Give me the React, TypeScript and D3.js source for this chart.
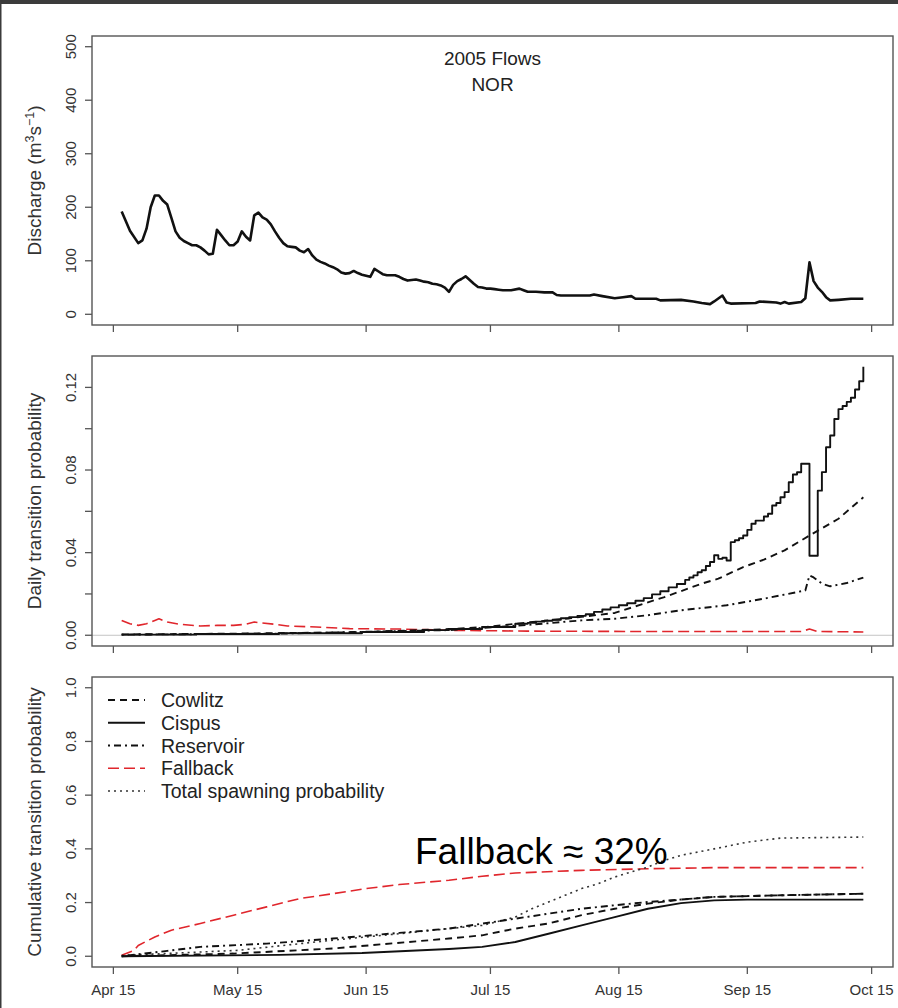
import React from "react";
import * as d3 from "d3";

// Season runs from 15 April 2005; all series are keyed by days after that date.
const SEASON_START = Date.UTC(2005, 3, 15);
const dayToDate = (d: number) => new Date(SEASON_START + d * 86400000);

// ---- Panel 1: discharge (m3/s) ----
const flowDays = [2, 4, 6, 7, 8, 9, 10, 11, 12, 13, 14, 15, 16, 17, 18, 19, 20, 21, 22, 23, 24, 25, 26, 27, 28, 29, 30, 31, 32, 33, 34, 35, 36, 37, 38, 39, 40, 41, 42, 43, 44, 45, 46, 47, 48, 49, 50, 51, 52, 53, 54, 55, 56, 57, 58, 59, 60, 61, 62, 63, 64, 65, 66, 67, 68, 69, 70, 71, 72, 73, 74, 75, 76, 77, 78, 79, 80, 81, 82, 83, 84, 85, 86, 87, 88, 89, 90, 91, 92, 93, 94, 96, 98, 99, 100, 102, 104, 106, 107, 108, 112, 115, 116, 118, 121, 123, 125, 126, 131, 132, 137, 140, 142, 144, 145, 147, 148, 149, 155, 156, 160, 161, 162, 163, 166, 167, 168, 169, 170, 171, 172, 173, 175, 178, 181];
const flowValues = [192, 156, 133, 138, 160, 200, 222, 222, 212, 205, 180, 155, 143, 137, 133, 129, 129, 125, 119, 112, 113, 158, 148, 138, 129, 129, 136, 155, 145, 138, 185, 190, 181, 177, 168, 155, 143, 133, 127, 126, 125, 119, 116, 122, 110, 102, 98, 95, 91, 88, 84, 78, 76, 77, 81, 77, 74, 72, 70, 85, 80, 75, 73, 73, 73, 70, 66, 63, 64, 65, 63, 61, 60, 57, 56, 54, 50, 42, 55, 62, 66, 71, 64, 57, 51, 50, 48, 48, 47, 46, 45, 45, 48, 45, 42, 42, 41, 41, 36, 35, 35, 35, 37, 34, 30, 32, 34, 29, 29, 26, 27, 24, 21, 19, 24, 35, 22, 20, 21, 24, 22, 20, 23, 20, 23, 30, 97, 62, 50, 42, 32, 26, 27, 29, 29];

// ---- Panel 2: daily transition probability ----
const cispusDays = [2, 20, 40, 60, 75, 81, 89, 97, 100, 102, 104, 106, 108, 110, 112, 114, 116, 118, 120, 122, 124, 126, 128, 130, 132, 134, 136, 138, 139, 140, 141, 142, 143, 144, 145, 146, 147, 148, 149, 150, 151, 152, 153, 154, 155, 156, 157, 158, 159, 160, 161, 162, 163, 164, 165, 166, 167, 168, 169, 170, 171, 172, 173, 174, 175, 176, 177, 178, 179, 180, 181];
const cispusDaily = [0.0003, 0.0006, 0.001, 0.0016, 0.0025, 0.003, 0.004, 0.0056, 0.006, 0.0066, 0.007, 0.0075, 0.0082, 0.0088, 0.0094, 0.0102, 0.0113, 0.0125, 0.0135, 0.0145, 0.0155, 0.0167, 0.018, 0.0198, 0.0213, 0.0232, 0.0248, 0.0268, 0.028, 0.029, 0.0305, 0.0315, 0.0335, 0.0355, 0.0387, 0.037, 0.0375, 0.0362, 0.0451, 0.046, 0.047, 0.0483, 0.051, 0.054, 0.0555, 0.0555, 0.0575, 0.0588, 0.0628, 0.064, 0.0668, 0.0693, 0.0741, 0.0778, 0.0789, 0.083, 0.083, 0.0385, 0.0385, 0.07, 0.079, 0.091, 0.0967, 0.1047, 0.1095, 0.111, 0.113, 0.115, 0.119, 0.123, 0.13];

const cowlitzDays = [2, 30, 60, 81, 90, 100, 110, 121, 126, 133, 138, 142, 146, 152, 157, 162, 168, 175, 181];
const cowlitzDaily = [0.0004, 0.0008, 0.0015, 0.003, 0.004, 0.0062, 0.0082, 0.0108, 0.014, 0.0185, 0.0221, 0.025, 0.0274, 0.033, 0.0366, 0.0411, 0.0483, 0.0564, 0.0668];

const reservoirDays = [2, 40, 81, 100, 113, 121, 129, 137, 148, 157, 167, 168, 169, 171, 173, 177, 181];
const reservoirDaily = [0.0003, 0.0008, 0.0025, 0.005, 0.0072, 0.008, 0.0097, 0.0121, 0.0145, 0.0177, 0.0217, 0.029, 0.028, 0.025, 0.0237, 0.0253, 0.0279];

const fallbackDays = [2, 4, 6, 8, 10, 11, 13, 16, 21, 25, 29, 32, 34, 35, 39, 42, 49, 57, 69, 81, 100, 130, 166, 168, 170, 181];
const fallbackDaily = [0.0072, 0.0056, 0.0048, 0.0056, 0.0072, 0.008, 0.0064, 0.0053, 0.0045, 0.0048, 0.0048, 0.0053, 0.0064, 0.0061, 0.0053, 0.0045, 0.004, 0.0032, 0.003, 0.0024, 0.002, 0.0018, 0.0018, 0.003, 0.0018, 0.0016];

// ---- Panel 3: cumulative transition probability ----
const cowlitzCumDays = [2, 29, 53, 81, 89, 97, 105, 113, 121, 129, 137, 145, 161, 181];
const cowlitzCum = [0, 0.01, 0.029, 0.066, 0.078, 0.103, 0.122, 0.153, 0.177, 0.196, 0.211, 0.221, 0.227, 0.233];

const cispusCumDays = [2, 40, 60, 81, 89, 97, 105, 113, 121, 129, 137, 145, 153, 181];
const cispusCum = [0, 0.005, 0.012, 0.027, 0.035, 0.053, 0.084, 0.115, 0.146, 0.177, 0.198, 0.208, 0.211, 0.211];

const reservoirCumDays = [2, 13, 21, 37, 53, 69, 81, 97, 113, 121, 129, 145, 161, 181];
const reservoirCum = [0, 0.02, 0.035, 0.047, 0.066, 0.087, 0.103, 0.14, 0.177, 0.19, 0.202, 0.221, 0.227, 0.233];

const fallbackCumDays = [2, 5, 6, 10, 14, 21, 29, 37, 45, 53, 61, 69, 81, 89, 97, 113, 129, 145, 181];
const fallbackCum = [0.004, 0.022, 0.04, 0.072, 0.097, 0.122, 0.153, 0.184, 0.215, 0.233, 0.252, 0.267, 0.283, 0.298, 0.31, 0.32, 0.326, 0.33, 0.33];

const totalCumDays = [2, 30, 53, 69, 81, 89, 97, 101, 105, 109, 113, 117, 121, 125, 129, 133, 137, 145, 153, 161, 181];
const totalCum = [0.003, 0.022, 0.06, 0.084, 0.103, 0.115, 0.146, 0.177, 0.202, 0.227, 0.252, 0.27, 0.295, 0.314, 0.332, 0.357, 0.376, 0.4, 0.425, 0.44, 0.444];

// ---- Axis ticks ----
const xTickLabels = ["Apr 15", "May 15", "Jun 15", "Jul 15", "Aug 15", "Sep 15", "Oct 15"];
const flowTicks = [0, 100, 200, 300, 400, 500];
const dailyTicks = [0, 0.02, 0.04, 0.06, 0.08, 0.1, 0.12];
const dailyTickLabels = [0, 0.04, 0.08, 0.12];
const cumTicks = [0, 0.2, 0.4, 0.6, 0.8, 1.0];

const FONT = "'Liberation Sans', Arial, Helvetica, sans-serif";
const AXIS_COL = "#555";

const LEFT = 92;
const RIGHT = 893;
const panels = [
  { top: 36, bottom: 325 },
  { top: 356, bottom: 646 },
  { top: 677, bottom: 967 },
];

type Pt = [number, number];
const zip = (days: number[], vals: number[]): Pt[] => days.map((d, i) => [d, vals[i]]);

// R-style axis range: data range padded by 4% on each side
const pad = (lo: number, hi: number): [number, number] => {
  const r = hi - lo;
  return [lo - 0.04 * r, hi + 0.04 * r];
};

const allDays = [...flowDays, ...cispusDays, ...totalCumDays];
const [dLo, dHi] = pad(d3.min(allDays)!, d3.max(allDays)!);
const x = d3.scaleUtc().domain([dayToDate(dLo), dayToDate(dHi)]).range([LEFT, RIGHT]);

const yFlow = d3.scaleLinear().domain(pad(0, 500)).range([panels[0].bottom, panels[0].top]);
const dailyMax = d3.max([...cispusDaily, ...cowlitzDaily, ...reservoirDaily, ...fallbackDaily])!;
const yDaily = d3.scaleLinear().domain(pad(0, dailyMax)).range([panels[1].bottom, panels[1].top]);
const yCum = d3.scaleLinear().domain(pad(0, 1)).range([panels[2].bottom, panels[2].top]);

const parseTick = d3.utcParse("%b %d %Y");
const xTickDates = xTickLabels.map((l) => parseTick(l + " 2005")!);

function pathFor(pts: Pt[], y: d3.ScaleLinear<number, number>, curve: d3.CurveFactory = d3.curveLinear) {
  return (
    d3
      .line<Pt>()
      .x((p) => x(dayToDate(p[0])))
      .y((p) => y(p[1]))
      .curve(curve)(pts) || ""
  );
}

const series = {
  cowlitz: { stroke: "#111", dash: "7,5", width: 1.9 },
  cispus: { stroke: "#111", dash: "", width: 1.9 },
  reservoir: { stroke: "#111", dash: "2,4,7,4", width: 1.9 },
  fallback: { stroke: "#e0262c", dash: "11,5", width: 1.6 },
  total: { stroke: "#333", dash: "2,4", width: 1.6 },
};

const legendItems: { label: string; key: keyof typeof series }[] = [
  { label: "Cowlitz", key: "cowlitz" },
  { label: "Cispus", key: "cispus" },
  { label: "Reservoir", key: "reservoir" },
  { label: "Fallback", key: "fallback" },
  { label: "Total spawning probability", key: "total" },
];

function Frame({ top, bottom }: { top: number; bottom: number }) {
  return (
    <g>
      <rect x={LEFT} y={top} width={RIGHT - LEFT} height={bottom - top} fill="none" stroke={AXIS_COL} strokeWidth={1.4} />
      {xTickDates.map((d, i) => (
        <line key={i} x1={x(d)} x2={x(d)} y1={bottom} y2={bottom + 7} stroke={AXIS_COL} strokeWidth={1.3} />
      ))}
    </g>
  );
}

function YAxis({
  y,
  ticks,
  labels,
  fmt,
  title,
}: {
  y: d3.ScaleLinear<number, number>;
  ticks: number[];
  labels: number[];
  fmt: (v: number) => string;
  title: React.ReactNode;
}) {
  const [r0, r1] = y.range();
  const mid = (r0 + r1) / 2;
  return (
    <g fontFamily={FONT}>
      {ticks.map((t, i) => (
        <line key={i} x1={LEFT - 7} x2={LEFT} y1={y(t)} y2={y(t)} stroke={AXIS_COL} strokeWidth={1.3} />
      ))}
      {labels.map((t, i) => (
        <text key={i} transform={`translate(75.5,${y(t)}) rotate(-90)`} textAnchor="middle" fontSize={15} fill="#333">
          {fmt(t)}
        </text>
      ))}
      <text transform={`translate(41,${mid}) rotate(-90)`} textAnchor="middle" fontSize={19} fill="#333">
        {title}
      </text>
    </g>
  );
}

function SeriesPath({ pts, y, k, curve }: { pts: Pt[]; y: d3.ScaleLinear<number, number>; k: keyof typeof series; curve?: d3.CurveFactory }) {
  const s = series[k];
  return (
    <path
      d={pathFor(pts, y, curve)}
      fill="none"
      stroke={s.stroke}
      strokeWidth={s.width}
      strokeDasharray={s.dash || undefined}
      strokeLinejoin="round"
    />
  );
}

export default function App() {
  const f2 = d3.format(".2f");
  const f1 = d3.format(".1f");
  return (
    <svg
      width={898}
      height={1008}
      viewBox="0 0 898 1008"
      style={{ position: "absolute", left: 0, top: 0, background: "#fff" }}
    >
      <rect x={0} y={0} width={898} height={1008} fill="#fff" />

      {/* Panel 1: discharge */}
      <Frame {...panels[0]} />
      <YAxis
        y={yFlow}
        ticks={flowTicks}
        labels={flowTicks}
        fmt={(v) => String(v)}
        title={
          <>
            Discharge (m
            <tspan dy={-7} fontSize={12.5}>3</tspan>
            <tspan dy={7}>s</tspan>
            <tspan dy={-7} fontSize={12.5}>−1</tspan>
            <tspan dy={7}>)</tspan>
          </>
        }
      />
      <path
        d={pathFor(zip(flowDays, flowValues), yFlow)}
        fill="none"
        stroke="#111"
        strokeWidth={2.6}
        strokeLinejoin="round"
      />
      <g fontFamily={FONT} fontSize={19} fill="#222" textAnchor="middle">
        <text x={(LEFT + RIGHT) / 2} y={65}>2005 Flows</text>
        <text x={(LEFT + RIGHT) / 2} y={91}>NOR</text>
      </g>

      {/* Panel 2: daily transition probability */}
      <line x1={LEFT} x2={RIGHT} y1={yDaily(0)} y2={yDaily(0)} stroke="#c4c4c4" strokeWidth={1} />
      <Frame {...panels[1]} />
      <YAxis y={yDaily} ticks={dailyTicks} labels={dailyTickLabels} fmt={f2} title="Daily transition probability" />
      <SeriesPath pts={zip(fallbackDays, fallbackDaily)} y={yDaily} k="fallback" />
      <SeriesPath pts={zip(reservoirDays, reservoirDaily)} y={yDaily} k="reservoir" />
      <SeriesPath pts={zip(cowlitzDays, cowlitzDaily)} y={yDaily} k="cowlitz" />
      <SeriesPath pts={zip(cispusDays, cispusDaily)} y={yDaily} k="cispus" curve={d3.curveStepAfter} />

      {/* Panel 3: cumulative transition probability */}
      <Frame {...panels[2]} />
      <YAxis y={yCum} ticks={cumTicks} labels={cumTicks} fmt={f1} title="Cumulative transition probability" />
      <SeriesPath pts={zip(fallbackCumDays, fallbackCum)} y={yCum} k="fallback" />
      <SeriesPath pts={zip(totalCumDays, totalCum)} y={yCum} k="total" />
      <SeriesPath pts={zip(reservoirCumDays, reservoirCum)} y={yCum} k="reservoir" />
      <SeriesPath pts={zip(cowlitzCumDays, cowlitzCum)} y={yCum} k="cowlitz" />
      <SeriesPath pts={zip(cispusCumDays, cispusCum)} y={yCum} k="cispus" />

      {/* x tick labels on the bottom panel */}
      <g fontFamily={FONT} fontSize={15} fill="#333" textAnchor="middle">
        {xTickDates.map((d, i) => (
          <text key={i} x={x(d)} y={995}>
            {xTickLabels[i]}
          </text>
        ))}
      </g>

      {/* legend */}
      <g fontFamily={FONT} fontSize={19.5} fill="#222">
        {legendItems.map((it, i) => {
          const cy = 700 + i * 22.75;
          const s = series[it.key];
          return (
            <g key={it.key}>
              <line
                x1={108}
                x2={145}
                y1={cy}
                y2={cy}
                stroke={s.stroke}
                strokeWidth={s.width}
                strokeDasharray={s.dash || undefined}
              />
              <text x={161} y={cy + 7}>
                {it.label}
              </text>
            </g>
          );
        })}
      </g>

      <text x={415} y={864} fontFamily={FONT} fontSize={37} fill="#000">
        Fallback ≈ 32%
      </text>

      {/* outer frame edges */}
      <rect x={0} y={0} width={898} height={4} fill="#3b3b3b" />
      <rect x={0} y={0} width={1.5} height={1008} fill="#3b3b3b" />
    </svg>
  );
}
